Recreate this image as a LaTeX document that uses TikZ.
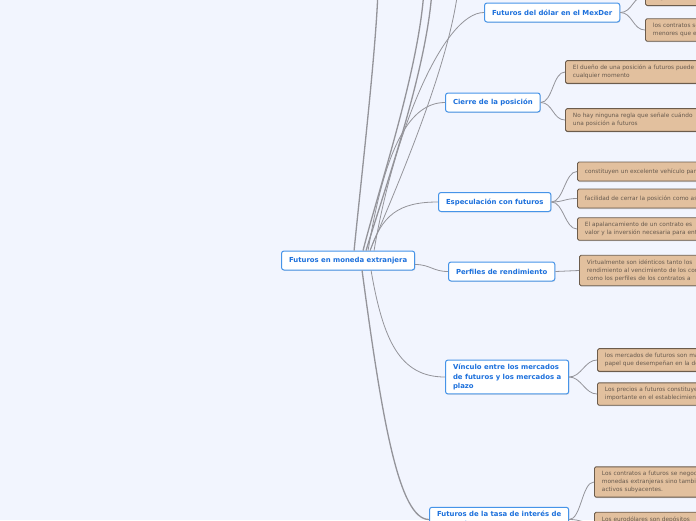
\documentclass[tikz,border=0pt]{standalone}
\usepackage{fontspec}
\setmainfont{DejaVu Sans}
\usetikzlibrary{positioning, shadows}
\definecolor{MapBack}{RGB}{242,245,254}
\definecolor{TopicBlue}{RGB}{28,112,220}
\definecolor{TopicLine}{RGB}{70,148,232}
\definecolor{LeafFill}{RGB}{226,192,158}
\definecolor{LeafLine}{RGB}{108,92,76}
\definecolor{LeafText}{RGB}{104,90,78}
\definecolor{EdgeGray}{RGB}{148,148,154}

\begin{document}
\begin{tikzpicture}[x=1pt, y=-1pt,
    topic/.style={draw=TopicLine, line width=1pt, fill=white, rounded corners=2.5pt,
      text=TopicBlue, font=\fontsize{6.9}{9.5}\selectfont\bfseries, align=left,
      inner xsep=7.5pt, inner ysep=4pt, minimum height=19pt, anchor=west,
      drop shadow={shadow xshift=0.6pt, shadow yshift=-0.9pt, opacity=0.2}},
    leaf/.style={draw=LeafLine, line width=0.9pt, fill=LeafFill, rounded corners=1.5pt,
      text=LeafText, font=\fontsize{5.8}{7.8}\selectfont, align=left, text width=200pt,
      inner xsep=7.5pt, inner ysep=4.5pt, minimum height=19pt, anchor=west,
      drop shadow={shadow xshift=0.7pt, shadow yshift=-1pt, opacity=0.35}},
    trunk/.style={draw=EdgeGray, line width=1.3pt},
    twig/.style={draw=EdgeGray, line width=0.8pt}]

    % Canvas
    \useasboundingbox (0,0) rectangle (696,520);
    \clip (0,0) rectangle (696,520);
    \fill[MapBack] (0,0) rectangle (696,520);

    % Central topic and branches
    \node[topic] (moneda) at (281,260.5) {Futuros en moneda extranjera};
    \node[topic] (dolar) at (484,12.5) {Futuros del dólar en el MexDer};
    \node[topic] (cierre) at (445,102.5) {Cierre de la posición};
    \node[topic] (espec) at (438,202) {Especulación con futuros};
    \node[topic] (perfiles) at (448,271.5) {Perfiles de rendimiento};
    \node[topic] (vinculo) at (445,377) {Vínculo entre los mercados\\de futuros y los mercados a\\plazo};
    \node[topic] (tasa) at (429,519.5) {Futuros de la tasa de interés de\\corto plazo};

    % Branches that leave the top of the view
    \coordinate (upA) at (378,-10);
    \coordinate (upB) at (424,-10);
    \coordinate (upC) at (432,-10);
    \coordinate (upD) at (458,-10);

    % Leaves
    \node[leaf] (d1) at (645,-4) {\mbox{}\\negocian en el};
    \node[leaf] (d2) at (645,30) {los contratos son\\menores que el};
    \node[leaf] (c1) at (565,72) {El dueño de una posición a futuros puede\\cualquier momento};
    \node[leaf] (c2) at (565,120) {No hay ninguna regla que señale cuándo\\una posición a futuros};
    \node[leaf] (e1) at (577,171.5) {constituyen un excelente vehículo para};
    \node[leaf] (e2) at (577,198.5) {facilidad de cerrar la posición como así};
    \node[leaf] (e3) at (577,229) {El apalancamiento de un contrato es\\valor y la inversión necesaria para entrar};
    \node[leaf] (p1) at (579,270.5) {Virtualmente son idénticos tanto los\\rendimiento al vencimiento de los contratos\\como los perfiles de los contratos a};
    \node[leaf] (v1) at (597,360) {los mercados de futuros son más\\papel que desempeñan en la determinación};
    \node[leaf] (v2) at (597,394) {Los precios a futuros constituyen\\importante en el establecimiento};
    \node[leaf] (t1) at (594,482) {Los contratos a futuros se negocian\\monedas extranjeras sino también\\activos subyacentes.};
    \node[leaf] (t2) at (594,523) {Los eurodólares son depósitos\\en bancos};

    % Trunk connectors
    \draw[trunk] ([xshift=6pt]moneda.north) .. controls +(8,-80) and +(-2,60) .. (upA);
    \draw[trunk] ([xshift=15pt]moneda.north) .. controls +(15,-60) and +(-5,80) .. (upB);
    \draw[trunk] ([xshift=18pt]moneda.north) .. controls +(18,-60) and +(-5,80) .. (upC);
    \draw[twig] ([xshift=22pt]moneda.north) .. controls +(25,-60) and +(-10,80) .. (upD);
    \draw[twig] ([xshift=26pt]moneda.north) .. controls +(20,-120) and +(-40,0) .. (dolar.west);
    \draw[twig] ([xshift=20pt]moneda.north) .. controls +(15,-90) and +(-40,0) .. (cierre.west);
    \draw[twig] ([xshift=22pt]moneda.north) .. controls +(12,-35) and +(-40,0) .. (espec.west);
    \draw[twig] ([yshift=-4pt]moneda.east) .. controls +(15,0) and +(-15,0) .. (perfiles.west);
    \draw[twig] ([xshift=23pt]moneda.south) .. controls +(12,70) and +(-45,0) .. (vinculo.west);
    \draw[trunk] ([xshift=14pt]moneda.south) .. controls +(20,150) and +(-30,0) .. (tasa.west);

    % Leaf connectors
    \draw[twig] (dolar.east) .. controls +(12,0) and +(-12,0) .. (d1.west);
    \draw[twig] (dolar.east) .. controls +(12,0) and +(-12,0) .. (d2.west);
    \draw[twig] (cierre.east) .. controls +(12,0) and +(-12,0) .. (c1.west);
    \draw[twig] (cierre.east) .. controls +(12,0) and +(-12,0) .. (c2.west);
    \draw[twig] (espec.east) .. controls +(12,0) and +(-12,0) .. (e1.west);
    \draw[twig] (espec.east) .. controls +(12,0) and +(-12,0) .. (e2.west);
    \draw[twig] (espec.east) .. controls +(12,0) and +(-12,0) .. (e3.west);
    \draw[twig] (perfiles.east) -- (p1.west);
    \draw[twig] (vinculo.east) .. controls +(12,0) and +(-12,0) .. (v1.west);
    \draw[twig] (vinculo.east) .. controls +(12,0) and +(-12,0) .. (v2.west);
    \draw[twig] (tasa.east) .. controls +(12,0) and +(-12,0) .. (t1.west);
    \draw[twig] (tasa.east) .. controls +(12,0) and +(-12,0) .. (t2.west);
\end{tikzpicture}
\end{document}
